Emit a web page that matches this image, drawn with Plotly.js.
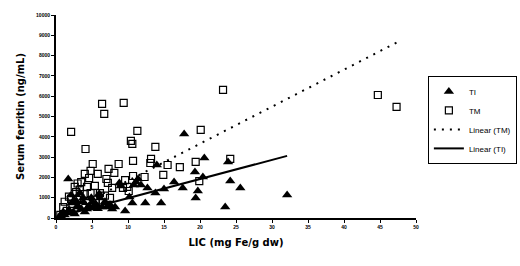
<!DOCTYPE html>
<html>
<head>
<meta charset="utf-8">
<script src="https://cdn.plot.ly/plotly-3.0.1.min.js"></script>
<style>html,body{margin:0;padding:0;background:#fff;}#chart{width:520px;height:266px;}</style>
</head>
<body>
<div id="chart"></div>
<script>
// TI (thalassemia intermedia) points
var tiX = [0.8,1.5,2.4,1.7,2.1,2.2,3.1,4.3,3.3,3.8,3.8,5.1,5.1,6.1,6.4,7.1,7.8,8.2,8.8,9.0,9.6,10.2,10.6,10.8,11.1,11.4,11.8,12.4,12.7,13.8,14.0,14.6,15.0,16.4,17.6,17.8,19.3,19.4,19.7,20.4,20.6,23.5,23.9,24.2,25.6,32.1,0.5,1.2,1.8,2.6,3.0,4.0,4.6,5.5,6.8,7.5,2.8,1.0,3.5,5.8,4.9,6.0];
var tiY = [50,250,300,1920,1130,740,540,440,1230,790,990,790,490,990,540,540,440,540,1730,1580,350,1040,740,1630,1770,1920,1630,740,1480,1230,2610,740,1430,1770,1480,4140,2270,990,1330,2020,2960,540,2760,1820,1480,1130,100,150,400,200,600,300,600,700,800,650,850,300,450,450,1000,1200];
// TM (thalassemia major) points
var tmX = [0.6,1.0,1.5,2.1,2.9,4.3,6.5,2.6,2.8,4.0,4.8,6.1,7.5,3.5,4.3,5.4,7.2,7.8,9.3,10.1,9.9,4.0,4.8,5.8,4.6,7.0,9.6,10.7,12.3,14.9,19.9,7.3,8.1,5.1,8.7,10.7,13.2,13.1,15.5,17.2,19.4,24.2,4.1,13.8,10.4,10.6,2.1,11.3,20.1,6.4,6.7,9.4,23.2,44.7,47.3,3.0,2.3,1.8,3.3,5.5,6.8,1.2,3.7];
var tmY = [150,540,350,940,890,840,740,1530,1280,1180,1230,1230,990,1770,1530,1580,1730,1480,1480,1330,1530,2170,2320,2170,1970,1920,1870,2070,2020,2120,1820,2420,2220,2660,2660,2810,2910,2710,2610,2510,2760,2910,3400,3500,3800,3650,4240,4290,4340,5620,5130,5670,6310,6060,5470,1700,700,1050,1400,900,1100,800,600];
// Linear trend lines (end points)
var fitTmX = [0.6, 47.3];
var fitTmY = [120, 8640];
var fitTiX = [0.8, 32.1];
var fitTiY = [115, 3060];
var xTicks = [0,5,10,15,20,25,30,35,40,45,50];
var yTicks = [0,1000,2000,3000,4000,5000,6000,7000,8000,9000,10000];

var traces = [
  {x: tiX, y: tiY, name: 'TI', mode: 'markers', type: 'scatter',
   marker: {symbol: 'triangle-up', size: 9, color: '#000'}},
  {x: tmX, y: tmY, name: 'TM', mode: 'markers', type: 'scatter',
   marker: {symbol: 'square-open', size: 7, color: '#000', line: {width: 1.2, color: '#000'}}},
  {x: fitTmX, y: fitTmY, name: 'Linear (TM)', mode: 'lines', type: 'scatter',
   line: {color: '#000', width: 2, dash: '2px,6px'}},
  {x: fitTiX, y: fitTiY, name: 'Linear (TI)', mode: 'lines', type: 'scatter',
   line: {color: '#000', width: 2}}
];

var tickFont = {family: 'Liberation Sans, Arial, sans-serif', size: 5, color: '#000', weight: 'bold'};
var layout = {
  width: 520, height: 266,
  margin: {l: 56, r: 104, t: 15, b: 48, autoexpand: false},
  paper_bgcolor: '#fff', plot_bgcolor: '#fff',
  showlegend: true,
  legend: {x: 1.033, y: 0.70, xanchor: 'left', yanchor: 'top',
    bordercolor: '#000', borderwidth: 1, bgcolor: '#fff',
    font: {family: 'Liberation Sans, Arial, sans-serif', size: 8, color: '#000'},
    tracegroupgap: 0, itemwidth: 30},
  xaxis: {range: [0, 50], tickvals: xTicks, ticktext: xTicks.map(String),
    showgrid: false, zeroline: false, showline: true, linecolor: '#000', linewidth: 2,
    ticks: 'outside', ticklen: 3, tickwidth: 1, tickcolor: '#000', tickfont: tickFont,
    title: {text: 'LIC (mg Fe/g dw)', standoff: 10,
      font: {family: 'DejaVu Sans, sans-serif', size: 10, color: '#000', weight: 'bold'}}},
  yaxis: {range: [0, 10000], tickvals: yTicks, ticktext: yTicks.map(String),
    showgrid: false, zeroline: false, showline: true, linecolor: '#000', linewidth: 2,
    ticks: 'outside', ticklen: 3, tickwidth: 1, tickcolor: '#000', tickfont: tickFont,
    title: {text: 'Serum ferritin (ng/mL)', standoff: 10,
      font: {family: 'DejaVu Sans, sans-serif', size: 10, color: '#000', weight: 'bold'}}}
};
Plotly.newPlot('chart', traces, layout, {staticPlot: true, displayModeBar: false});
</script>
</body>
</html>
